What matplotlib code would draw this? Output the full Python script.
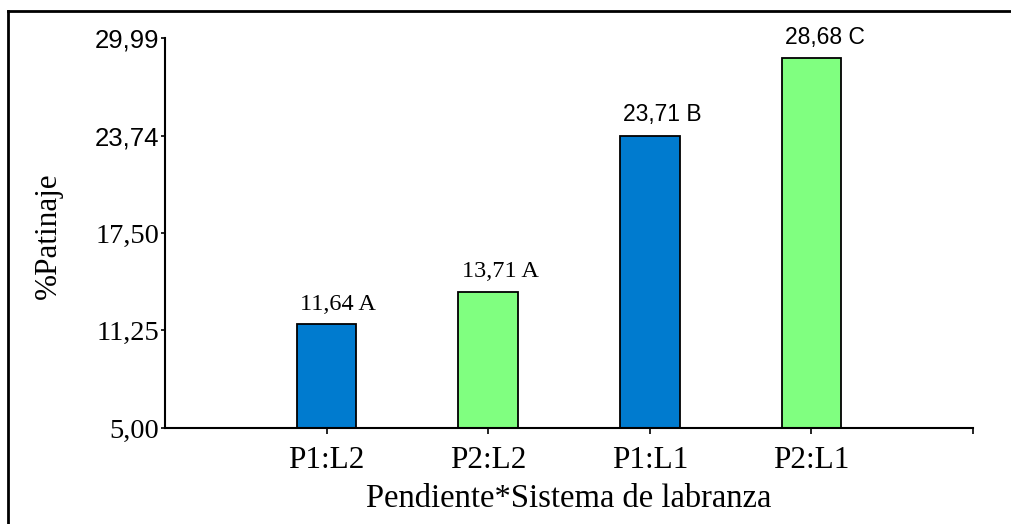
import matplotlib
matplotlib.use("Agg")
import matplotlib.pyplot as plt
from matplotlib.lines import Line2D

# data
categories = ["P1:L2", "P2:L2", "P1:L1", "P2:L1"]
values = [11.64, 13.71, 23.71, 28.68]
letters = ["A", "A", "B", "C"]
colors = ["#007BCF", "#80FF80", "#007BCF", "#80FF80"]
yticks = [5.00, 11.25, 17.50, 23.74, 29.99]

serif = ["Liberation Serif", "DejaVu Serif"]
sans = ["Liberation Sans", "DejaVu Sans"]

W, H = 1011, 524
fig = plt.figure(figsize=(W / 100, H / 100), dpi=100)
ax = fig.add_axes([165 / W, 1 - 428 / H, (973 - 165) / W, (428 - 38) / H])

x = list(range(len(categories)))
ax.bar(x, [v - 5.0 for v in values], bottom=5.0, width=0.37,
       color=colors, edgecolor="black", linewidth=1.3)

# value + letter labels, left aligned on the bar
for xi, v, l in zip(x, values, letters):
    lab = f"{v:.2f}".replace(".", ",") + " " + l
    ax.annotate(lab, (xi - 0.165, v), xytext=(0, 7), textcoords="offset points",
                ha="left", va="bottom",
                fontsize=16.5 if v > 20 else 17.5,
                family=sans if v > 20 else serif)

ax.set_xlim(-1, 4)
ax.set_ylim(5.0, 29.99)
ax.set_xticks(x + [4])
ax.set_xticklabels(categories + [""], family=serif, fontsize=22.5)
ax.set_yticks(yticks)
ax.set_yticklabels([f"{t:.2f}".replace(".", ",") for t in yticks], fontsize=20.5)
for t, lab in zip(yticks, ax.get_yticklabels()):
    lab.set_family(sans if t > 20 else serif)
    if t > 20:
        lab.set_fontsize(18.5)

ax.tick_params(axis="y", length=3, width=1.2, pad=1)
ax.tick_params(axis="x", length=4, width=1.2, pad=9)
for s in ["top", "right"]:
    ax.spines[s].set_visible(False)
for s in ["left", "bottom"]:
    ax.spines[s].set_linewidth(1.5)

ax.set_xlabel("Pendiente*Sistema de labranza", family=serif, fontsize=23.5, labelpad=6)
fig.text(48 / W, 1 - 236 / H, "%Patinaje", rotation=90, ha="center", va="center",
         family=serif, fontsize=22.5)

# outer frame (left and top edges visible in the reference)
fig.add_artist(Line2D([8 / W, 8 / W], [0, 1 - 11 / H], transform=fig.transFigure,
                      color="black", linewidth=2))
fig.add_artist(Line2D([8 / W, 1], [1 - 11 / H, 1 - 11 / H], transform=fig.transFigure,
                      color="black", linewidth=2))

fig.savefig("out.png", dpi=100)
